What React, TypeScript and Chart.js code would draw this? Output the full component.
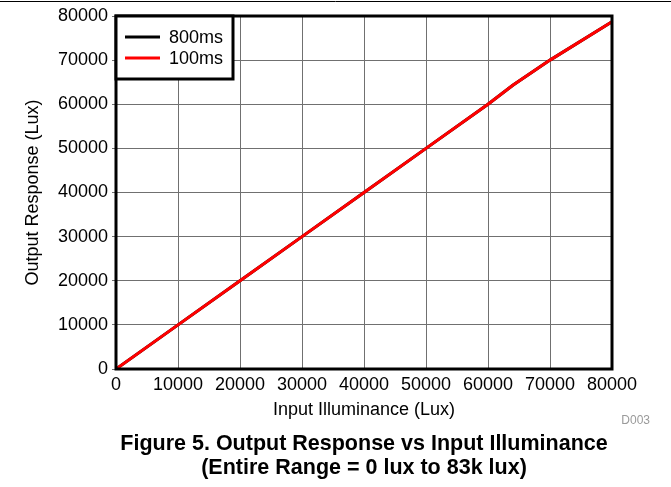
import React, { useEffect, useRef } from "react";
import { Chart, registerables } from "chart.js";

Chart.register(...registerables);

const inputLux = [0, 10000, 20000, 30000, 40000, 50000, 60000, 64000, 70000, 80000];
const response800ms = [0, 10000, 20000, 30000, 40000, 50000, 60000, 64300, 70000, 78700];
const response100ms = [0, 10000, 20000, 30000, 40000, 50000, 60000, 64300, 70000, 78700];
const seriesLabels = ["800ms", "100ms"];
const seriesColors = ["#000000", "#ff0000"];
const xTitle = "Input Illuminance (Lux)";
const yTitle = "Output Response (Lux)";
const captionLines = [
  "Figure 5. Output Response vs Input Illuminance",
  "(Entire Range = 0 lux to 83k lux)",
];
const figureCode = "D003";

const FONT = "'Liberation Sans', Arial, sans-serif";

const decorPlugin = {
  id: "decor",
  afterDraw(chart: any) {
    const { ctx, chartArea } = chart;
    const { left, top, right, bottom } = chartArea;
    ctx.save();
    ctx.strokeStyle = "#000";
    ctx.lineWidth = 1;
    ctx.beginPath();
    ctx.moveTo(0, 1.5);
    ctx.lineTo(chart.width, 1.5);
    ctx.stroke();
    ctx.lineWidth = 3;
    ctx.strokeRect(left, top, right - left, bottom - top);
    const bx = left, by = top, bw = 117, bh = 63;
    ctx.fillStyle = "#fff";
    ctx.fillRect(bx, by, bw, bh);
    ctx.strokeRect(bx, by, bw, bh);
    ctx.font = `18px ${FONT}`;
    ctx.textBaseline = "middle";
    ctx.textAlign = "left";
    chart.data.datasets.forEach((ds: any, i: number) => {
      const y = by + 21 + i * 21;
      ctx.strokeStyle = ds.borderColor;
      ctx.lineWidth = 3;
      ctx.beginPath();
      ctx.moveTo(bx + 9, y);
      ctx.lineTo(bx + 44, y);
      ctx.stroke();
      ctx.fillStyle = "#000";
      ctx.fillText(ds.label, bx + 53, y + 1);
    });
    ctx.fillStyle = "#9a9a9a";
    ctx.font = `12px ${FONT}`;
    ctx.textAlign = "right";
    ctx.fillText(figureCode, 650, 421);
    ctx.fillStyle = "#000";
    ctx.font = `bold 21.5px ${FONT}`;
    ctx.textAlign = "center";
    ctx.fillText(captionLines[0], 364, 444);
    ctx.fillText(captionLines[1], 364, 468);
    ctx.restore();
  },
};

export default function App() {
  const ref = useRef<HTMLCanvasElement>(null);
  useEffect(() => {
    if (!ref.current) return;
    const mk = (vals: number[]) => inputLux.map((x, i) => ({ x, y: vals[i] }));
    const plain = (v: any) => String(v);
    const chart = new Chart(ref.current, {
      type: "line",
      data: {
        datasets: [
          {
            label: seriesLabels[0],
            data: mk(response800ms),
            borderColor: seriesColors[0],
            borderWidth: 3,
            pointRadius: 0,
            tension: 0,
            order: 1,
          },
          {
            label: seriesLabels[1],
            data: mk(response100ms),
            borderColor: seriesColors[1],
            borderWidth: 3,
            pointRadius: 0,
            tension: 0,
            order: 0,
          },
        ],
      },
      options: {
        animation: false,
        responsive: false,
        devicePixelRatio: 1,
        layout: { padding: { top: 16, right: 59, left: 0, bottom: 0 } },
        plugins: { legend: { display: false }, tooltip: { enabled: false } },
        scales: {
          x: {
            type: "linear",
            min: 0,
            max: 80000,
            afterFit: (s: any) => { s.height = 118; },
            ticks: { stepSize: 10000, color: "#000", padding: 5, font: { family: FONT, size: 18 }, maxRotation: 0, callback: plain },
            grid: { color: "#707070", lineWidth: 1, drawTicks: false },
            border: { display: false },
            title: { display: true, text: xTitle, color: "#000", font: { family: FONT, size: 18 }, padding: { bottom: 66 } },
          },
          y: {
            type: "linear",
            min: 0,
            max: 80000,
            afterFit: (s: any) => { s.width = 116; },
            ticks: { stepSize: 10000, color: "#000", padding: 4, font: { family: FONT, size: 18 }, callback: plain },
            grid: { color: "#707070", lineWidth: 1, tickLength: 4 },
            border: { display: false },
            title: { display: true, text: yTitle, color: "#000", font: { family: FONT, size: 18 }, padding: { top: 22 } },
          },
        },
      },
      plugins: [decorPlugin],
    });
    return () => chart.destroy();
  }, []);
  return (
    <div style={{ position: "absolute", left: 0, top: 0, width: 671, height: 487, background: "#fff" }}>
      <canvas ref={ref} width={671} height={487} />
    </div>
  );
}
